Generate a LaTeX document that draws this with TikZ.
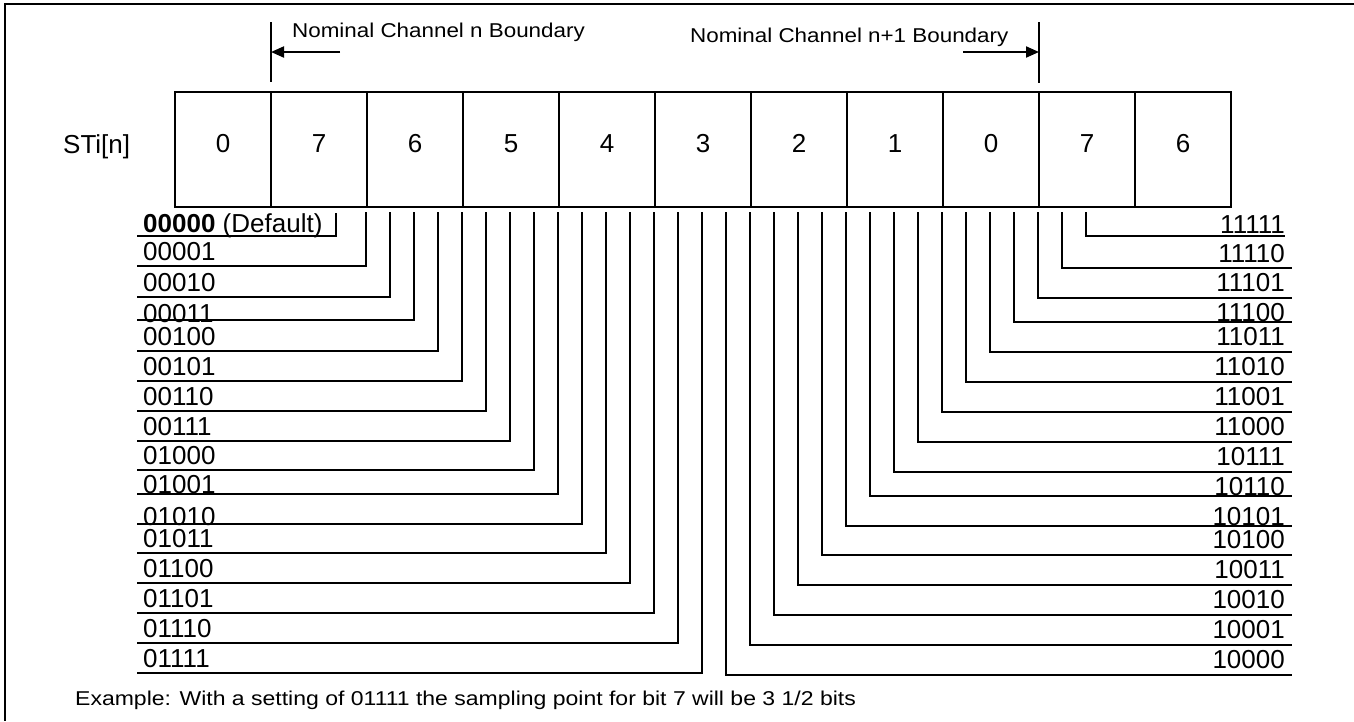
\documentclass[tikz,border=0pt]{standalone}
\usepackage{fontspec}
\setmainfont{Liberation Sans}
\usetikzlibrary{arrows.meta}
\begin{document}
\begin{tikzpicture}[x=1pt,y=-1pt,
  cell_style/.style={draw=black,line width=2pt,minimum width=96pt,minimum height=115pt,inner sep=0pt,text depth=11.6pt,font=\fontsize{26}{30}\selectfont},
  left_label/.style={anchor=base west,inner sep=0pt,font=\fontsize{26}{30}\selectfont},
  right_label/.style={anchor=base east,inner sep=0pt,font=\fontsize{26}{30}\selectfont},
  note_style/.style={anchor=base west,inner sep=0pt,font=\fontsize{20}{24}\selectfont},
  line_style/.style={draw=black,line width=2pt},
  arrow_style/.style={draw=black,line width=2pt,-{Triangle[length=13pt,width=11pt]}}]
  \useasboundingbox (0,0) rectangle (1354,721);
  \draw[line_style] (1354,4) -| (5,721);
  % boundaries
  \node[note_style] (nb_n) at (292,37) {\scalebox{1.12}[1]{Nominal Channel n Boundary}};
  \node[note_style] (nb_m) at (690,42.5) {\scalebox{1.12}[1]{Nominal Channel n+1 Boundary}};
  \coordinate (bn_top) at (271,22); \coordinate (bn_bot) at (271,82);
  \coordinate (bm_top) at (1039,22); \coordinate (bm_bot) at (1039,83);
  \coordinate (an_from) at (340,52); \coordinate (an_to) at (271,52);
  \coordinate (am_from) at (963,52); \coordinate (am_to) at (1039,52);
  \draw[line_style] (bn_top) -- (bn_bot);
  \draw[line_style] (bm_top) -- (bm_bot);
  \draw[arrow_style] (an_from) -- (an_to);
  \draw[arrow_style] (am_from) -- (am_to);
  % bit cells
  \node[left_label] (sti) at (63,153) {STi[n]};
  \node[cell_style] (c0) at (223,149.5) {0};
  \node[cell_style] (c1) at (319,149.5) {7};
  \node[cell_style] (c2) at (415,149.5) {6};
  \node[cell_style] (c3) at (511,149.5) {5};
  \node[cell_style] (c4) at (607,149.5) {4};
  \node[cell_style] (c5) at (703,149.5) {3};
  \node[cell_style] (c6) at (799,149.5) {2};
  \node[cell_style] (c7) at (895,149.5) {1};
  \node[cell_style] (c8) at (991,149.5) {0};
  \node[cell_style] (c9) at (1087,149.5) {7};
  \node[cell_style] (c10) at (1183,149.5) {6};
  % settings 00000 - 01111
  \node[left_label] (r0) at (143,232) {\textbf{00000} (Default)}; \coordinate (e0) at (137,236); \coordinate (t0) at (336,213); \draw[line_style] (e0) -| (t0);
  \node[left_label] (r1) at (143,260) {00001}; \coordinate (e1) at (137,266); \coordinate (t1) at (366,212); \draw[line_style] (e1) -| (t1);
  \node[left_label] (r2) at (143,291) {00010}; \coordinate (e2) at (137,297); \coordinate (t2) at (390,212); \draw[line_style] (e2) -| (t2);
  \node[left_label] (r3) at (143,322) {00011}; \coordinate (e3) at (137,320); \coordinate (t3) at (414,212); \draw[line_style] (e3) -| (t3);
  \node[left_label] (r4) at (143,345) {00100}; \coordinate (e4) at (137,351); \coordinate (t4) at (438,212); \draw[line_style] (e4) -| (t4);
  \node[left_label] (r5) at (143,375) {00101}; \coordinate (e5) at (137,381); \coordinate (t5) at (462,212); \draw[line_style] (e5) -| (t5);
  \node[left_label] (r6) at (143,405) {00110}; \coordinate (e6) at (137,411); \coordinate (t6) at (486,212); \draw[line_style] (e6) -| (t6);
  \node[left_label] (r7) at (143,435) {00111}; \coordinate (e7) at (137,441); \coordinate (t7) at (510,212); \draw[line_style] (e7) -| (t7);
  \node[left_label] (r8) at (143,464) {01000}; \coordinate (e8) at (137,470); \coordinate (t8) at (534,212); \draw[line_style] (e8) -| (t8);
  \node[left_label] (r9) at (143,493) {01001}; \coordinate (e9) at (137,494); \coordinate (t9) at (558,212); \draw[line_style] (e9) -| (t9);
  \node[left_label] (r10) at (143,525) {01010}; \coordinate (e10) at (137,524); \coordinate (t10) at (582,212); \draw[line_style] (e10) -| (t10);
  \node[left_label] (r11) at (143,547) {01011}; \coordinate (e11) at (137,553); \coordinate (t11) at (606,212); \draw[line_style] (e11) -| (t11);
  \node[left_label] (r12) at (143,577) {01100}; \coordinate (e12) at (137,583); \coordinate (t12) at (630,212); \draw[line_style] (e12) -| (t12);
  \node[left_label] (r13) at (143,607) {01101}; \coordinate (e13) at (137,613); \coordinate (t13) at (654,212); \draw[line_style] (e13) -| (t13);
  \node[left_label] (r14) at (143,637) {01110}; \coordinate (e14) at (137,643); \coordinate (t14) at (678,212); \draw[line_style] (e14) -| (t14);
  \node[left_label] (r15) at (143,667) {01111}; \coordinate (e15) at (137,673); \coordinate (t15) at (702,212); \draw[line_style] (e15) -| (t15);
  % settings 10000 - 11111
  \node[right_label] (r16) at (1285,668) {10000}; \coordinate (e16) at (1292,675); \coordinate (t16) at (726,212); \draw[line_style] (t16) |- (e16);
  \node[right_label] (r17) at (1285,638) {10001}; \coordinate (e17) at (1292,645); \coordinate (t17) at (750,212); \draw[line_style] (t17) |- (e17);
  \node[right_label] (r18) at (1285,608) {10010}; \coordinate (e18) at (1292,615); \coordinate (t18) at (774,212); \draw[line_style] (t18) |- (e18);
  \node[right_label] (r19) at (1285,578) {10011}; \coordinate (e19) at (1292,585); \coordinate (t19) at (798,212); \draw[line_style] (t19) |- (e19);
  \node[right_label] (r20) at (1285,548) {10100}; \coordinate (e20) at (1292,555); \coordinate (t20) at (822,212); \draw[line_style] (t20) |- (e20);
  \node[right_label] (r21) at (1285,525) {10101}; \coordinate (e21) at (1292,526); \coordinate (t21) at (846,212); \draw[line_style] (t21) |- (e21);
  \node[right_label] (r22) at (1285,495) {10110}; \coordinate (e22) at (1292,496); \coordinate (t22) at (870,212); \draw[line_style] (t22) |- (e22);
  \node[right_label] (r23) at (1285,465) {10111}; \coordinate (e23) at (1292,472); \coordinate (t23) at (894,212); \draw[line_style] (t23) |- (e23);
  \node[right_label] (r24) at (1285,435) {11000}; \coordinate (e24) at (1292,442); \coordinate (t24) at (918,212); \draw[line_style] (t24) |- (e24);
  \node[right_label] (r25) at (1285,405) {11001}; \coordinate (e25) at (1292,412); \coordinate (t25) at (942,212); \draw[line_style] (t25) |- (e25);
  \node[right_label] (r26) at (1285,375) {11010}; \coordinate (e26) at (1292,382); \coordinate (t26) at (966,212); \draw[line_style] (t26) |- (e26);
  \node[right_label] (r27) at (1285,345) {11011}; \coordinate (e27) at (1292,352); \coordinate (t27) at (990,212); \draw[line_style] (t27) |- (e27);
  \node[right_label] (r28) at (1285,321) {11100}; \coordinate (e28) at (1292,322); \coordinate (t28) at (1014,212); \draw[line_style] (t28) |- (e28);
  \node[right_label] (r29) at (1285,291) {11101}; \coordinate (e29) at (1292,298); \coordinate (t29) at (1038,212); \draw[line_style] (t29) |- (e29);
  \node[right_label] (r30) at (1285,262) {11110}; \coordinate (e30) at (1292,268); \coordinate (t30) at (1062,212); \draw[line_style] (t30) |- (e30);
  \node[right_label] (r31) at (1285,233) {11111}; \coordinate (e31) at (1285,236); \coordinate (t31) at (1086,212); \draw[line_style] (t31) |- (e31);
  % note
  \node[note_style] (ex) at (75,705) {\scalebox{1.15}[1]{Example: With a setting of 01111 the sampling point for bit 7 will be 3 1/2 bits}};
\end{tikzpicture}
\end{document}
